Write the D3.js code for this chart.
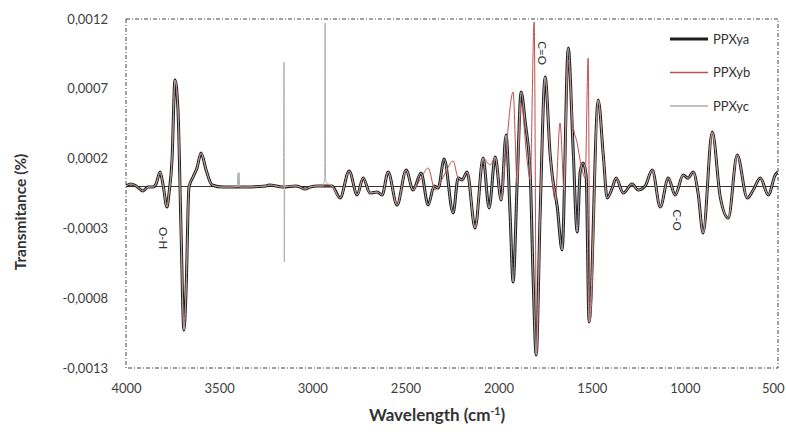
<!DOCTYPE html>
<html><head><meta charset="utf-8">
<script src="https://cdn.jsdelivr.net/npm/d3@7"></script>
<style>body{margin:0;background:#fff}svg{display:block}</style>
</head><body><svg id="c" width="786" height="439"></svg>
<script>
const seriesNames = ["PPXya", "PPXyb", "PPXyc"];
const xTicks = [4000, 3500, 3000, 2500, 2000, 1500, 1000, 500];
const yTicks = [0.0012, 0.0007, 0.0002, -0.0003, -0.0008, -0.0013];
const annotations = [["O-H", 3801, -0.000369], ["C=O", 1766, 0.000956], ["C-O", 1041, -0.00024]];

const ppxya = [[4000,0.000004],[3973,0.000018],[3946,0.000004],[3909,-0.000032],[3882,-0.000004],[3855,-0.000004],[3839,0.000018],[3817,0.000104],[3801,0.000011],[3780,-0.000147],[3769,-0.000047],[3753,0.000190],[3737,0.000763],[3721,0.000548],[3705,-0.000290],[3689,-0.001028],[3678,-0.000763],[3662,-0.000004],[3640,0.000068],[3619,0.000133],[3597,0.000240],[3570,0.000118],[3538,0.000011],[3479,-0.000004],[3372,-0.000004],[3248,0.000004],[3232,0.000011],[3157,-0.000004],[3087,0.000004],[3066,-0.000004],[3039,-0.000018],[3012,-0.000004],[2974,0.000004],[2942,0.000004],[2894,0.000004],[2851,-0.000082],[2802,0.000111],[2759,-0.000061],[2727,0.000061],[2690,-0.000047],[2652,-0.000039],[2625,-0.000061],[2593,0.000104],[2545,-0.000133],[2496,0.000118],[2459,-0.000025],[2416,0.000097],[2378,-0.000133],[2346,0.000004],[2324,-0.000011],[2292,0.000197],[2244,-0.000190],[2217,0.000061],[2196,0.000047],[2169,0.000104],[2126,-0.000297],[2083,0.000204],[2051,-0.000154],[2018,0.000211],[1986,-0.000097],[1960,0.000369],[1938,-0.000204],[1922,-0.000684],[1900,0.000032],[1879,0.000677],[1857,0.000462],[1830,0.000082],[1814,-0.000684],[1798,-0.001207],[1777,-0.000204],[1750,0.000784],[1723,0.000226],[1712,0.000082],[1685,-0.000147],[1659,-0.000455],[1626,0.000992],[1600,0.000276],[1578,-0.000326],[1562,0.000104],[1546,0.000168],[1530,0.000082],[1514,-0.000971],[1465,0.000620],[1438,0.000226],[1417,-0.000082],[1390,-0.000011],[1369,0.000061],[1331,-0.000047],[1283,0.000018],[1251,-0.000025],[1213,0.000004],[1175,0.000118],[1132,-0.000147],[1089,0.000061],[1052,-0.000061],[1009,0.000082],[983,0.000060],[955,0.000104],[929,-0.000047],[902,-0.000333],[853,0.000390],[810,-0.000075],[767,-0.000226],[719,0.000226],[665,-0.000082],[633,-0.000025],[595,0.000061],[552,-0.000061],[515,0.000082],[500,0.000104]];

const ppxyb = [[4000,0.000004],[3973,0.000018],[3946,0.000004],[3909,-0.000032],[3882,-0.000004],[3855,-0.000004],[3839,0.000018],[3817,0.000104],[3801,0.000011],[3780,-0.000147],[3769,-0.000047],[3753,0.000190],[3737,0.000763],[3721,0.000548],[3705,-0.000290],[3689,-0.001028],[3678,-0.000763],[3662,-0.000004],[3640,0.000068],[3619,0.000133],[3597,0.000240],[3570,0.000118],[3538,0.000011],[3479,-0.000004],[3372,-0.000004],[3248,0.000004],[3232,0.000011],[3157,-0.000004],[3087,0.000004],[3066,-0.000004],[3039,-0.000018],[3012,-0.000004],[2974,0.000004],[2942,0.000004],[2894,0.000004],[2851,-0.000082],[2802,0.000111],[2759,-0.000061],[2727,0.000061],[2690,-0.000047],[2652,-0.000039],[2625,-0.000061],[2593,0.000104],[2545,-0.000133],[2496,0.000118],[2459,-0.000025],[2416,0.000061],[2378,0.000133],[2341,-0.000025],[2292,0.000082],[2244,0.000183],[2217,0.000061],[2196,0.000047],[2169,0.000104],[2126,-0.000297],[2083,0.000204],[2045,0.000154],[2018,0.000211],[1986,-0.000097],[1960,0.000261],[1922,0.000677],[1900,0.000025],[1879,0.000600],[1847,0.000190],[1830,0.000047],[1809,0.001178],[1796,-0.001207],[1777,-0.000204],[1750,0.000784],[1723,0.000226],[1696,-0.000097],[1670,0.000455],[1648,-0.000025],[1626,0.000906],[1600,0.000440],[1578,0.000311],[1557,0.000154],[1535,0.000061],[1519,0.000920],[1509,-0.000971],[1465,0.000620],[1438,0.000226],[1417,-0.000082],[1390,-0.000011],[1369,0.000061],[1331,-0.000047],[1283,0.000018],[1251,-0.000025],[1213,0.000004],[1175,0.000118],[1132,-0.000147],[1089,0.000061],[1052,-0.000061],[1009,0.000082],[983,0.000060],[955,0.000104],[929,-0.000047],[902,-0.000333],[853,0.000390],[810,-0.000075],[767,-0.000226],[719,0.000226],[665,-0.000082],[633,-0.000025],[595,0.000061],[552,-0.000061],[515,0.000082],[500,0.000104]];

const ppxyc = [[4000,0.000004],[3973,0.000018],[3946,0.000004],[3909,-0.000032],[3882,-0.000004],[3855,-0.000004],[3839,0.000018],[3817,0.000104],[3801,0.000011],[3780,-0.000147],[3769,-0.000047],[3753,0.000190],[3737,0.000763],[3721,0.000548],[3705,-0.000290],[3689,-0.001028],[3678,-0.000763],[3662,-0.000004],[3640,0.000068],[3619,0.000133],[3597,0.000240],[3570,0.000118],[3538,0.000011],[3479,-0.000004],[3402,0.000000],[3399,0.000095],[3396,0.000000],[3393,0.000100],[3390,0.000000],[3372,-0.000004],[3248,0.000004],[3232,0.000011],[3157,-0.000004],[3154,0.000000],[3152,0.000890],[3150,-0.000540],[3148,0.000000],[3087,0.000004],[3066,-0.000004],[3039,-0.000018],[3012,-0.000004],[2974,0.000004],[2942,0.000004],[2937,0.000030],[2933,0.000060],[2931,0.001170],[2929,0.000060],[2925,0.000030],[2894,0.000004],[2851,-0.000082],[2802,0.000111],[2759,-0.000061],[2727,0.000061],[2690,-0.000047],[2652,-0.000039],[2625,-0.000061],[2593,0.000104],[2545,-0.000133],[2496,0.000118],[2459,-0.000025],[2416,0.000097],[2378,-0.000133],[2346,0.000004],[2324,-0.000011],[2292,0.000197],[2244,-0.000190],[2217,0.000061],[2196,0.000047],[2169,0.000104],[2126,-0.000297],[2083,0.000204],[2051,-0.000154],[2018,0.000211],[1986,-0.000097],[1960,0.000369],[1938,-0.000204],[1922,-0.000684],[1900,0.000032],[1879,0.000677],[1857,0.000462],[1830,0.000082],[1814,-0.000684],[1798,-0.001207],[1777,-0.000204],[1750,0.000784],[1723,0.000226],[1712,0.000082],[1685,-0.000147],[1659,-0.000455],[1626,0.000992],[1600,0.000276],[1578,-0.000326],[1562,0.000104],[1546,0.000168],[1530,0.000082],[1514,-0.000971],[1465,0.000620],[1438,0.000226],[1417,-0.000082],[1390,-0.000011],[1369,0.000061],[1331,-0.000047],[1283,0.000018],[1251,-0.000025],[1213,0.000004],[1175,0.000118],[1132,-0.000147],[1089,0.000061],[1052,-0.000061],[1009,0.000082],[983,0.000060],[955,0.000104],[929,-0.000047],[902,-0.000333],[853,0.000390],[810,-0.000075],[767,-0.000226],[719,0.000226],[665,-0.000082],[633,-0.000025],[595,0.000061],[552,-0.000061],[515,0.000082],[500,0.000104]];

const series = [
  {name: seriesNames[0], data: ppxya, color: "#1e1e1e", width: 3, lw: 3},
  {name: seriesNames[1], data: ppxyb, color: "#c0504d", width: 1, lw: 1.5},
  {name: seriesNames[2], data: ppxyc, color: "#adadad", width: 1, lw: 1.5}
];

const svg = d3.select("#c");
const L = 126, R = 778, T = 19, B = 368;
const font = "Lato, 'Open Sans', sans-serif";
const x = d3.scaleLinear().domain([4000, 500]).range([L, R]);
const y = d3.scaleLinear().domain([-0.0013, 0.0012]).range([B, T]);

svg.append("defs").append("clipPath").attr("id", "clip")
  .append("rect").attr("x", L).attr("y", T).attr("width", R - L).attr("height", B - T);

// plot frame
svg.append("rect").attr("x", L).attr("y", T).attr("width", R - L).attr("height", B - T)
  .attr("fill", "none").attr("stroke", "#444").attr("stroke-width", 1)
  .attr("stroke-dasharray", "4,2,1,2");

// axes labels
const fmt = v => v.toFixed(4).replace(".", ",");
const gx = svg.append("g").attr("transform", `translate(0,${B})`)
  .call(d3.axisBottom(x).tickValues(xTicks).tickSize(0).tickPadding(16).tickFormat(d => d));
gx.select(".domain").remove();
gx.selectAll("text").attr("font-family", font).attr("font-size", 13).attr("fill", "#404040");
// keep the last label inside the picture
gx.selectAll(".tick").filter(d => d === xTicks[xTicks.length - 1]).select("text")
  .attr("text-anchor", "end").attr("dx", 6);

const gy = svg.append("g").attr("transform", `translate(${L},0)`)
  .call(d3.axisLeft(y).tickValues(yTicks).tickSize(0).tickPadding(18).tickFormat(fmt));
gy.select(".domain").remove();
gy.selectAll("text").attr("font-family", font).attr("font-size", 13).attr("fill", "#404040");

// zero line
svg.append("line").attr("x1", L).attr("x2", R).attr("y1", y(0)).attr("y2", y(0))
  .attr("stroke", "#333").attr("stroke-width", 1.2);

// series
const line = d3.line().x(d => x(d[0])).y(d => y(d[1])).curve(d3.curveMonotoneX);
const plot = svg.append("g").attr("clip-path", "url(#clip)");
series.forEach(s => {
  plot.append("path").datum(s.data).attr("d", line)
    .attr("fill", "none").attr("stroke", s.color).attr("stroke-width", s.width)
    .attr("stroke-linejoin", "round");
});

// annotations
annotations.forEach(a => {
  svg.append("text").attr("transform", `translate(${x(a[1])},${y(a[2])}) rotate(90)`)
    .attr("text-anchor", "middle").attr("dy", "0.35em")
    .attr("font-family", font).attr("font-size", 11.5).attr("fill", "#333").text(a[0]);
});

// legend
const lg = svg.append("g");
series.forEach((s, i) => {
  const yy = 39 + i * 33.5;
  lg.append("line").attr("x1", 670).attr("x2", 708).attr("y1", yy).attr("y2", yy)
    .attr("stroke", s.color).attr("stroke-width", s.lw);
  lg.append("text").attr("x", 713).attr("y", yy).attr("dy", "0.35em")
    .attr("font-family", font).attr("font-size", 13).attr("fill", "#333").text(s.name);
});

// axis titles
svg.append("text").attr("x", 437).attr("y", 421).attr("text-anchor", "middle")
  .attr("font-family", font).attr("font-size", 17).attr("font-weight", "bold").attr("fill", "#333")
  .call(t => {
    t.append("tspan").text("Wavelength (cm");
    t.append("tspan").attr("font-size", 10.5).attr("dy", -6).text("-1");
    t.append("tspan").attr("dy", 6).text(")");
  });
svg.append("text").attr("transform", "translate(26,212) rotate(-90)").attr("text-anchor", "middle")
  .attr("font-family", font).attr("font-size", 15.5).attr("font-weight", "bold").attr("fill", "#333")
  .text("Transmitance (%)");
</script>
</body></html>
